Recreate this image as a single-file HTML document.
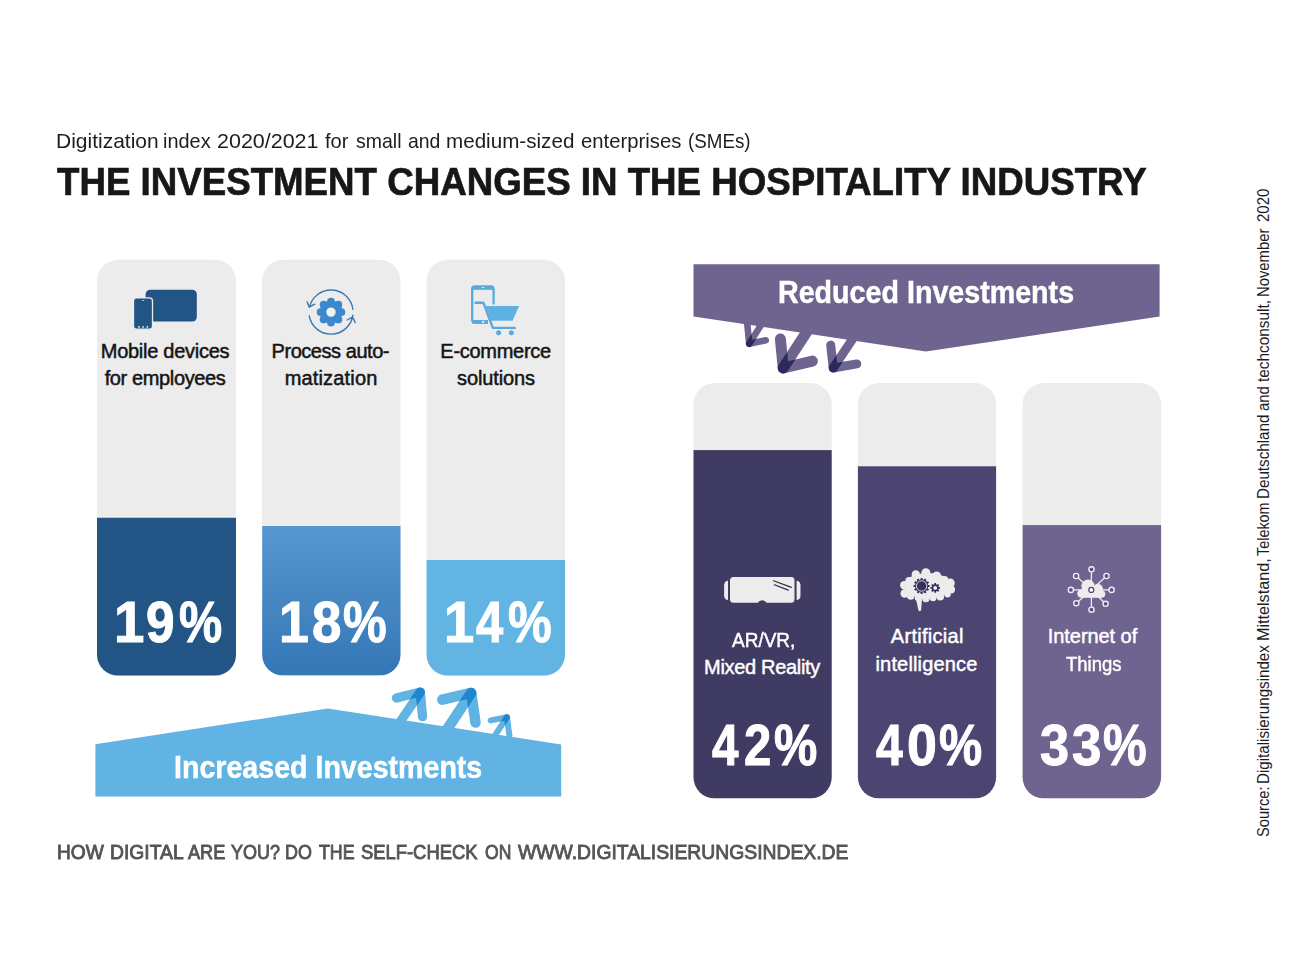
<!DOCTYPE html>
<html><head><meta charset="utf-8"><title>The investment changes in the hospitality industry</title>
<style>
html,body{margin:0;padding:0;background:#fff;}
body{width:1296px;height:972px;position:relative;overflow:hidden;font-family:"Liberation Sans",sans-serif;}
svg{position:absolute;left:0;top:0;}
.t{position:absolute;white-space:nowrap;line-height:1;margin:0;transform-origin:0 0;}
</style></head><body>
<svg width="1296" height="972" viewBox="0 0 1296 972">
<defs>
  <linearGradient id="g2" x1="0" y1="0" x2="0" y2="1"><stop offset="0" stop-color="#5797cf"/><stop offset="1" stop-color="#3476b6"/></linearGradient>
  <clipPath id="c1"><rect x="97" y="259.8" width="139" height="415.8" rx="21"/></clipPath>
  <clipPath id="c2"><rect x="262.2" y="259.8" width="138.3" height="415.8" rx="21"/></clipPath>
  <clipPath id="c3"><rect x="426.6" y="259.8" width="138.4" height="415.8" rx="21"/></clipPath>
  <clipPath id="c4"><rect x="693.5" y="383.1" width="138.2" height="415.2" rx="21"/></clipPath>
  <clipPath id="c5"><rect x="857.9" y="383.1" width="138.2" height="415.2" rx="21"/></clipPath>
  <clipPath id="c6"><rect x="1022.6" y="383.1" width="138.5" height="415.2" rx="21"/></clipPath>
</defs>
<!-- bars -->
<g clip-path="url(#c1)"><rect x="90" y="250" width="160" height="440" fill="#ececec"/><rect x="90" y="516.6" width="160" height="1.2" fill="#f7f7f7"/><rect x="90" y="517.7" width="160" height="170" fill="#225585"/></g>
<g clip-path="url(#c2)"><rect x="255" y="250" width="160" height="440" fill="#ececec"/><rect x="255" y="524.8" width="160" height="1.2" fill="#f7f7f7"/><rect x="255" y="525.9" width="160" height="149.7" fill="url(#g2)"/></g>
<g clip-path="url(#c3)"><rect x="420" y="250" width="160" height="440" fill="#ececec"/><rect x="420" y="560" width="160" height="130" fill="#62b4e2"/></g>
<g clip-path="url(#c4)"><rect x="685" y="375" width="160" height="440" fill="#ececec"/><rect x="685" y="450.1" width="160" height="360" fill="#403b63"/></g>
<g clip-path="url(#c5)"><rect x="850" y="375" width="160" height="440" fill="#ececec"/><rect x="850" y="466.3" width="160" height="340" fill="#4d4571"/></g>
<g clip-path="url(#c6)"><rect x="1015" y="375" width="160" height="440" fill="#ececec"/><rect x="1015" y="525.1" width="160" height="290" fill="#6f638f"/></g>

<!-- blue banner + arrows -->
<mask id="mb" maskUnits="userSpaceOnUse" x="380" y="680" width="150" height="70">
  <g fill="none" stroke="#fff" stroke-linecap="round" stroke-linejoin="round">
    <polyline points="396.5,698 420.3,692.1 422.5,716.7" stroke-width="9.3"/>
    <polyline points="442.3,699.7 471.2,692.9 475.5,722.6" stroke-width="10.5"/>
    <polyline points="490.7,720.4 506.9,717.2 509.4,735.4" stroke-width="6"/>
  </g>
</mask>
<g>
  <polygon points="95.4,744.2 327.7,708.6 561.2,744.4 561.2,796.4 95.4,796.4" fill="#60b3e2"/>
  <g fill="none" stroke="#60b3e2" stroke-linecap="round" stroke-linejoin="round">
    <polyline points="396.5,698 420.3,692.1 422.5,716.7" stroke-width="9.3"/>
    <polyline points="442.3,699.7 471.2,692.9 475.5,722.6" stroke-width="10.5"/>
    <polyline points="490.7,720.4 506.9,717.2 509.4,735.4" stroke-width="6"/>
    <line x1="420.3" y1="692.1" x2="398" y2="725" stroke-width="9.3"/>
    <line x1="471.2" y1="692.9" x2="444" y2="734" stroke-width="10.5"/>
    <line x1="506.9" y1="717.2" x2="492" y2="740" stroke-width="6"/>
  </g>
  <g fill="none" stroke="#1d86cf" stroke-linecap="round" mask="url(#mb)">
    <line x1="420.3" y1="692.1" x2="398" y2="725" stroke-width="9.3"/>
    <line x1="471.2" y1="692.9" x2="444" y2="734" stroke-width="10.5"/>
    <line x1="506.9" y1="717.2" x2="492" y2="740" stroke-width="6"/>
  </g>
</g>

<!-- purple banner + arrows -->
<mask id="mp" maskUnits="userSpaceOnUse" x="735" y="310" width="140" height="70">
  <g fill="none" stroke="#fff" stroke-linecap="round" stroke-linejoin="round">
    <polyline points="747.1,322 749.2,343.75 765.8,340.3" stroke-width="6.6"/>
    <polyline points="780.4,338.9 783.2,368 812.4,361.1" stroke-width="11"/>
    <polyline points="830.7,345.1 833.2,368 856.8,363.9" stroke-width="9"/>
  </g>
</mask>
<g>
  <g fill="none" stroke="#6f638f" stroke-linecap="round" stroke-linejoin="round">
    <polyline points="747.1,322 749.2,343.75 765.8,340.3" stroke-width="6.6"/>
    <polyline points="780.4,338.9 783.2,368 812.4,361.1" stroke-width="11"/>
    <polyline points="830.7,345.1 833.2,368 856.8,363.9" stroke-width="9"/>
    <line x1="749.2" y1="343.75" x2="763" y2="322" stroke-width="6.6"/>
    <line x1="783.2" y1="368" x2="808" y2="330" stroke-width="11"/>
    <line x1="833.2" y1="368" x2="854" y2="337" stroke-width="9"/>
  </g>
  <g fill="none" stroke="#2c2a5b" stroke-linecap="round" mask="url(#mp)">
    <line x1="749.2" y1="343.75" x2="763" y2="322" stroke-width="6.6"/>
    <line x1="783.2" y1="368" x2="808" y2="330" stroke-width="11"/>
    <line x1="833.2" y1="368" x2="854" y2="337" stroke-width="9"/>
  </g>
  <polygon points="693.5,264.3 1159.6,264.3 1159.6,316.4 925.8,351.5 693.5,316.4" fill="#6f638f"/>
</g>


<!-- icon: devices -->
<rect x="145.6" y="289.8" width="51.2" height="31.7" rx="4.5" fill="#225585"/>
<rect x="133.5" y="297.9" width="19" height="31.3" rx="3" fill="#225585" stroke="#ececec" stroke-width="1.3"/>
<g fill="#e8eef5"><circle cx="139" cy="326.9" r="0.9"/><circle cx="143.1" cy="326.9" r="0.9"/><circle cx="147.3" cy="326.9" r="0.9"/><rect x="142" y="300.2" width="2.2" height="0.8" rx="0.4"/></g>
<!-- icon: process gear -->
<g fill="#3b88cf"><circle cx="331" cy="312.1" r="11.3"/><circle cx="331.00" cy="301.70" r="3.9"/><circle cx="338.35" cy="304.75" r="3.9"/><circle cx="341.40" cy="312.10" r="3.9"/><circle cx="338.35" cy="319.45" r="3.9"/><circle cx="331.00" cy="322.50" r="3.9"/><circle cx="323.65" cy="319.45" r="3.9"/><circle cx="320.60" cy="312.10" r="3.9"/><circle cx="323.65" cy="304.75" r="3.9"/></g>
<circle cx="331" cy="312.1" r="4.7" fill="#f1f1f1"/>
<g fill="none" stroke="#3b78b3" stroke-width="1.4" stroke-linecap="round" stroke-linejoin="round">
  <path d="M352.94,309.41 A22.1,22.1 0 0 0 309.47,307.13"/>
  <path d="M309.24,315.94 A22.1,22.1 0 0 0 352.88,315.18"/>
  <polyline points="307.1,301.8 309.1,307.0 314.8,304.2"/>
  <polyline points="347.2,320.0 352.5,317.1 355.2,322.5"/>
</g>
<!-- icon: e-commerce -->
<g fill="none" stroke="#5ba9dc" stroke-width="2.3">
  <path d="M488,322.6 H474.6 A2.4,2.4 0 0 1 472.2,320.2 V288.9 A2.4,2.4 0 0 1 474.6,286.5 H491.2 A2.4,2.4 0 0 1 493.6,288.9 V304.5"/>
</g>
<rect x="472.2" y="286.2" width="21.4" height="3.6" fill="#5ba9dc"/>
<rect x="472.2" y="320" width="15.8" height="3.7" fill="#5ba9dc"/>
<rect x="481.8" y="287.1" width="2.4" height="0.9" fill="#eaf3fa"/>
<rect x="482" y="320.9" width="2.2" height="1.9" fill="#eaf3fa"/>
<path d="M475.5,302.7 H483.4 L492.8,327.9 H514.8" fill="none" stroke="#5ba9dc" stroke-width="2.4" stroke-linecap="round" stroke-linejoin="round"/>
<polygon points="485.2,306.1 519.1,306.1 512.6,320.7 491,320.7" fill="#5fb1e2"/>
<circle cx="498.6" cy="332.8" r="2.5" fill="#5ba9dc"/><circle cx="511.3" cy="332.8" r="2.5" fill="#5ba9dc"/>

<!-- icon: VR -->
<path d="M733.5,577 H791 A3.5,3.5 0 0 1 794.5,580.5 V599.3 A3.5,3.5 0 0 1 791,602.8 H766.6 A5,5 0 0 0 757.8,602.8 H733.5 A3.5,3.5 0 0 1 730,599.3 V580.5 A3.5,3.5 0 0 1 733.5,577 Z" fill="#ececec"/>
<path d="M728,580.8 V600.1 A4,5 0 0 1 724.1,596 V585 A4,5 0 0 1 728,580.8 Z" fill="#ececec"/>
<path d="M796.6,580.8 V600.1 A4,5 0 0 0 800.5,596 V585 A4,5 0 0 0 796.6,580.8 Z" fill="#ececec"/>
<g stroke="#2e2a4c" stroke-width="1.2" stroke-linecap="round"><line x1="773.6" y1="580.7" x2="791.4" y2="587.4"/><line x1="774.4" y1="584.7" x2="788.3" y2="590.1"/></g>

<!-- icon: brain -->
<g fill="#ececec"><circle cx="904.28" cy="585.24" r="4.18"/><circle cx="904.64" cy="593.52" r="4.18"/><circle cx="908.96" cy="580.56" r="3.60"/><circle cx="915.80" cy="574.44" r="4.18"/><circle cx="925.88" cy="572.64" r="4.46"/><circle cx="936.68" cy="575.88" r="4.46"/><circle cx="944.60" cy="579.84" r="3.74"/><circle cx="950.35" cy="583.08" r="4.46"/><circle cx="951.07" cy="589.56" r="3.96"/><circle cx="947.48" cy="594.24" r="3.24"/><circle cx="940.28" cy="596.76" r="3.74"/><circle cx="933.08" cy="597.84" r="3.46"/><circle cx="925.88" cy="598.56" r="3.74"/><circle cx="917.96" cy="597.84" r="3.24"/><circle cx="910.76" cy="596.04" r="3.74"/><ellipse cx="927.68" cy="585.60" rx="23.76" ry="12.60"/><path d="M915.22,595.32 L922.28,595.32 L921.13,609.72 A1.44,1.44 0 0 1 918.25,609.72 Z"/></g>
<path d="M920.67,577.95 L922.53,577.95 L922.63,579.48 L923.97,579.84 L924.82,578.57 L926.43,579.50 L925.75,580.87 L926.73,581.85 L928.10,581.17 L929.03,582.78 L927.76,583.63 L928.12,584.97 L929.65,585.07 L929.65,586.93 L928.12,587.03 L927.76,588.37 L929.03,589.22 L928.10,590.83 L926.73,590.15 L925.75,591.13 L926.43,592.50 L924.82,593.43 L923.97,592.16 L922.63,592.52 L922.53,594.05 L920.67,594.05 L920.57,592.52 L919.23,592.16 L918.38,593.43 L916.77,592.50 L917.45,591.13 L916.47,590.15 L915.10,590.83 L914.17,589.22 L915.44,588.37 L915.08,587.03 L913.55,586.93 L913.55,585.07 L915.08,584.97 L915.44,583.63 L914.17,582.78 L915.10,581.17 L916.47,581.85 L917.45,580.87 L916.77,579.50 L918.38,578.57 L919.23,579.84 L920.57,579.48Z" fill="#37325a"/>
<circle cx="921.6" cy="586" r="5.5" fill="#37325a" stroke="#ececec" stroke-width="0" />
<circle cx="921.6" cy="586" r="5.2" fill="none" stroke="#e6e4f0" stroke-width="0.9"/>
<path d="M934.36,583.07 L936.04,583.07 L936.06,584.30 L937.13,584.75 L938.02,583.89 L939.21,585.08 L938.35,585.97 L938.80,587.04 L940.03,587.06 L940.03,588.74 L938.80,588.76 L938.35,589.83 L939.21,590.72 L938.02,591.91 L937.13,591.05 L936.06,591.50 L936.04,592.73 L934.36,592.73 L934.34,591.50 L933.27,591.05 L932.38,591.91 L931.19,590.72 L932.05,589.83 L931.60,588.76 L930.37,588.74 L930.37,587.06 L931.60,587.04 L932.05,585.97 L931.19,585.08 L932.38,583.89 L933.27,584.75 L934.34,584.30Z" fill="#37325a"/>
<circle cx="935.2" cy="587.9" r="1.9" fill="#f1f0f5"/>

<!-- icon: IoT -->
<g stroke="#efedf4" stroke-width="1.3" fill="none"><line x1="1091.3" y1="589.9" x2="1091.47" y2="571.90"/><line x1="1091.3" y1="589.9" x2="1078.02" y2="577.75"/><line x1="1091.3" y1="589.9" x2="1104.58" y2="577.75"/><line x1="1091.3" y1="589.9" x2="1073.50" y2="589.90"/><line x1="1091.3" y1="589.9" x2="1109.00" y2="589.90"/><line x1="1091.3" y1="589.9" x2="1078.25" y2="601.48"/><line x1="1091.3" y1="589.9" x2="1103.74" y2="601.99"/><line x1="1091.3" y1="589.9" x2="1091.47" y2="607.10"/></g>
<g stroke="#efedf4" stroke-width="1.4" fill="#5d5280"><circle cx="1091.5" cy="569.3" r="2.6"/><circle cx="1076.1" cy="576" r="2.6"/><circle cx="1106.5" cy="576" r="2.6"/><circle cx="1070.9" cy="589.9" r="2.6"/><circle cx="1111.6" cy="589.9" r="2.6"/><circle cx="1076.3" cy="603.2" r="2.6"/><circle cx="1105.6" cy="603.8" r="2.6"/><circle cx="1091.5" cy="609.7" r="2.6"/></g>
<g fill="#ececec"><circle cx="1088" cy="586.1" r="6.6"/><circle cx="1098" cy="589" r="5.1"/><circle cx="1081.5" cy="593.5" r="4.3"/><circle cx="1101.5" cy="594" r="3.8"/><rect x="1081.5" y="590" width="20" height="7.8"/></g>
<circle cx="1091.3" cy="589.9" r="2.5" fill="#ffffff" stroke="#4d4472" stroke-width="1.2"/>
</svg>

<div id="s0" class="t" style="left:55.58px;top:130.96px;font-size:20.6px;font-weight:400;color:#1d1d1f;transform:scaleX(1.0193)">Digitization</div>
<div id="s1" class="t" style="left:163.43px;top:130.96px;font-size:20.6px;font-weight:400;color:#1d1d1f;transform:scaleX(0.9665)">index</div>
<div id="s2" class="t" style="left:217.06px;top:130.96px;font-size:20.6px;font-weight:400;color:#1d1d1f;transform:scaleX(1.0427)">2020/2021</div>
<div id="s3" class="t" style="left:325.00px;top:130.96px;font-size:20.6px;font-weight:400;color:#1d1d1f;transform:scaleX(0.9757)">for</div>
<div id="s4" class="t" style="left:355.60px;top:130.96px;font-size:20.6px;font-weight:400;color:#1d1d1f;transform:scaleX(0.9476)">small</div>
<div id="s5" class="t" style="left:408.30px;top:130.96px;font-size:20.6px;font-weight:400;color:#1d1d1f;transform:scaleX(0.9433)">and</div>
<div id="s6" class="t" style="left:445.70px;top:130.96px;font-size:20.6px;font-weight:400;color:#1d1d1f;transform:scaleX(1.0013)">medium-sized</div>
<div id="s7" class="t" style="left:580.60px;top:130.96px;font-size:20.6px;font-weight:400;color:#1d1d1f;transform:scaleX(0.9845)">enterprises</div>
<div id="s8" class="t" style="left:687.99px;top:130.96px;font-size:20.6px;font-weight:400;color:#1d1d1f;transform:scaleX(0.9119)">(SMEs)</div>
<div id="ttl" class="t" style="left:57.33px;top:162.16px;font-size:39.5px;font-weight:700;color:#17171a;-webkit-text-stroke:0.7px #17171a;transform:scaleX(0.9287)">THE INVESTMENT CHANGES IN THE HOSPITALITY INDUSTRY</div>
<div id="l1a" class="t" style="left:100.75px;top:340.87px;font-size:20px;font-weight:400;color:#151515;-webkit-text-stroke:0.5px #151515;letter-spacing:-0.269px">Mobile devices</div>
<div id="l1b" class="t" style="left:104.65px;top:368.27px;font-size:20px;font-weight:400;color:#151515;-webkit-text-stroke:0.5px #151515;letter-spacing:-0.369px">for employees</div>
<div id="l2a" class="t" style="left:271.55px;top:340.87px;font-size:20px;font-weight:400;color:#151515;-webkit-text-stroke:0.5px #151515;letter-spacing:-0.453px">Process auto-</div>
<div id="l2b" class="t" style="left:284.65px;top:368.27px;font-size:20px;font-weight:400;color:#151515;-webkit-text-stroke:0.5px #151515;letter-spacing:0.174px">matization</div>
<div id="l3a" class="t" style="left:440.35px;top:340.87px;font-size:20px;font-weight:400;color:#151515;-webkit-text-stroke:0.5px #151515;letter-spacing:-0.282px">E-commerce</div>
<div id="l3b" class="t" style="left:457.05px;top:368.27px;font-size:20px;font-weight:400;color:#151515;-webkit-text-stroke:0.5px #151515;letter-spacing:-0.117px">solutions</div>
<div id="inc" class="t" style="left:174.44px;top:750.61px;font-size:32px;font-weight:700;color:#ffffff;-webkit-text-stroke:0.5px #ffffff;transform:scaleX(0.8934)">Increased Investments</div>
<div id="red" class="t" style="left:777.93px;top:275.81px;font-size:32px;font-weight:700;color:#ffffff;-webkit-text-stroke:0.5px #ffffff;transform:scaleX(0.8951)">Reduced Investments</div>
<div id="r1a" class="t" style="left:731.51px;top:629.97px;font-size:20px;font-weight:400;color:#ffffff;-webkit-text-stroke:0.45px #ffffff;transform:scaleX(0.9500)">AR/VR,</div>
<div id="r1b" class="t" style="left:704.12px;top:657.47px;font-size:20px;font-weight:400;color:#ffffff;-webkit-text-stroke:0.45px #ffffff;letter-spacing:-0.316px">Mixed Reality</div>
<div id="r2a" class="t" style="left:890.83px;top:625.87px;font-size:20px;font-weight:400;color:#ffffff;-webkit-text-stroke:0.45px #ffffff;letter-spacing:0.286px">Artificial</div>
<div id="r2b" class="t" style="left:875.52px;top:653.57px;font-size:20px;font-weight:400;color:#ffffff;-webkit-text-stroke:0.45px #ffffff;letter-spacing:0.154px">intelligence</div>
<div id="r3a" class="t" style="left:1047.82px;top:625.87px;font-size:20px;font-weight:400;color:#ffffff;-webkit-text-stroke:0.45px #ffffff;letter-spacing:-0.066px">Internet of</div>
<div id="r3b" class="t" style="left:1065.61px;top:653.57px;font-size:20px;font-weight:400;color:#ffffff;-webkit-text-stroke:0.45px #ffffff;transform:scaleX(0.9259)">Things</div>
<div id="f0" class="t" style="left:57.29px;top:842.19px;font-size:20.8px;font-weight:400;color:#555557;-webkit-text-stroke:0.9px #555557;transform:scaleX(0.9198)">HOW</div>
<div id="f1" class="t" style="left:110.09px;top:842.19px;font-size:20.8px;font-weight:400;color:#555557;-webkit-text-stroke:0.9px #555557;transform:scaleX(0.9277)">DIGITAL</div>
<div id="f2" class="t" style="left:187.79px;top:842.19px;font-size:20.8px;font-weight:400;color:#555557;-webkit-text-stroke:0.9px #555557;transform:scaleX(0.8716)">ARE</div>
<div id="f3" class="t" style="left:230.89px;top:842.19px;font-size:20.8px;font-weight:400;color:#555557;-webkit-text-stroke:0.9px #555557;transform:scaleX(0.8653)">YOU?</div>
<div id="f4" class="t" style="left:285.13px;top:842.19px;font-size:20.8px;font-weight:400;color:#555557;-webkit-text-stroke:0.9px #555557;transform:scaleX(0.8601)">DO</div>
<div id="f5" class="t" style="left:319.08px;top:842.19px;font-size:20.8px;font-weight:400;color:#555557;-webkit-text-stroke:0.9px #555557;transform:scaleX(0.8550)">THE</div>
<div id="f6" class="t" style="left:361.20px;top:842.19px;font-size:20.8px;font-weight:400;color:#555557;-webkit-text-stroke:0.9px #555557;transform:scaleX(0.8842)">SELF-CHECK</div>
<div id="f7" class="t" style="left:484.78px;top:842.19px;font-size:20.8px;font-weight:400;color:#555557;-webkit-text-stroke:0.9px #555557;transform:scaleX(0.8429)">ON</div>
<div id="f8" class="t" style="left:518.22px;top:842.19px;font-size:20.8px;font-weight:400;color:#555557;-webkit-text-stroke:0.9px #555557;transform:scaleX(0.9296)">WWW.DIGITALISIERUNGSINDEX.DE</div>
<div class="t" style="left:114.38px;top:594.97px;font-size:56.5px;font-weight:700;color:#fff;-webkit-text-stroke:1.0px #fff;transform:scaleX(0.9673)">1</div>
<div class="t" style="left:146.45px;top:594.97px;font-size:56.5px;font-weight:700;color:#fff;-webkit-text-stroke:1.0px #fff;transform:scaleX(0.9095)">9</div>
<div class="t" style="left:178.77px;top:594.97px;font-size:56.5px;font-weight:700;color:#fff;-webkit-text-stroke:1.0px #fff;transform:scaleX(0.8590)">%</div>
<div class="t" style="left:279.13px;top:594.97px;font-size:56.5px;font-weight:700;color:#fff;-webkit-text-stroke:1.0px #fff;transform:scaleX(0.9495)">1</div>
<div class="t" style="left:311.63px;top:594.97px;font-size:56.5px;font-weight:700;color:#fff;-webkit-text-stroke:1.0px #fff;transform:scaleX(0.9362)">8</div>
<div class="t" style="left:343.27px;top:594.97px;font-size:56.5px;font-weight:700;color:#fff;-webkit-text-stroke:1.0px #fff;transform:scaleX(0.8692)">%</div>
<div class="t" style="left:443.60px;top:594.97px;font-size:56.5px;font-weight:700;color:#fff;-webkit-text-stroke:1.0px #fff;transform:scaleX(0.9602)">1</div>
<div class="t" style="left:476.03px;top:594.97px;font-size:56.5px;font-weight:700;color:#fff;-webkit-text-stroke:1.0px #fff;transform:scaleX(0.8663)">4</div>
<div class="t" style="left:507.77px;top:594.97px;font-size:56.5px;font-weight:700;color:#fff;-webkit-text-stroke:1.0px #fff;transform:scaleX(0.8692)">%</div>
<div class="t" style="left:712.22px;top:717.77px;font-size:56.5px;font-weight:700;color:#fff;-webkit-text-stroke:1.0px #fff;transform:scaleX(0.8420)">4</div>
<div class="t" style="left:743.67px;top:717.77px;font-size:56.5px;font-weight:700;color:#fff;-webkit-text-stroke:1.0px #fff;transform:scaleX(0.8696)">2</div>
<div class="t" style="left:774.27px;top:717.77px;font-size:56.5px;font-weight:700;color:#fff;-webkit-text-stroke:1.0px #fff;transform:scaleX(0.8610)">%</div>
<div class="t" style="left:876.43px;top:717.77px;font-size:56.5px;font-weight:700;color:#fff;-webkit-text-stroke:1.0px #fff;transform:scaleX(0.8511)">4</div>
<div class="t" style="left:906.67px;top:717.77px;font-size:56.5px;font-weight:700;color:#fff;-webkit-text-stroke:1.0px #fff;transform:scaleX(0.9512)">0</div>
<div class="t" style="left:938.77px;top:717.77px;font-size:56.5px;font-weight:700;color:#fff;-webkit-text-stroke:1.0px #fff;transform:scaleX(0.8590)">%</div>
<div class="t" style="left:1040.34px;top:717.77px;font-size:56.5px;font-weight:700;color:#fff;-webkit-text-stroke:1.0px #fff;transform:scaleX(0.9262)">3</div>
<div class="t" style="left:1071.63px;top:717.77px;font-size:56.5px;font-weight:700;color:#fff;-webkit-text-stroke:1.0px #fff;transform:scaleX(0.9362)">3</div>
<div class="t" style="left:1103.27px;top:717.77px;font-size:56.5px;font-weight:700;color:#fff;-webkit-text-stroke:1.0px #fff;transform:scaleX(0.8692)">%</div>
<div class="t" style="left:1269.9px;top:837.20px;font-size:16px;color:#1d1d1f;transform:rotate(-90deg) scaleX(0.9163) translateY(-13.54px)">Source:</div>
<div class="t" style="left:1269.9px;top:784.05px;font-size:16px;color:#1d1d1f;transform:rotate(-90deg) scaleX(0.9461) translateY(-13.54px)">Digitalisierungsindex</div>
<div class="t" style="left:1269.9px;top:641.21px;font-size:16px;color:#1d1d1f;transform:rotate(-90deg) scaleX(1.0104) translateY(-13.54px)">Mittelstand,</div>
<div class="t" style="left:1269.9px;top:556.30px;font-size:16px;color:#1d1d1f;transform:rotate(-90deg) scaleX(0.8996) translateY(-13.54px)">Telekom</div>
<div class="t" style="left:1269.9px;top:498.65px;font-size:16px;color:#1d1d1f;transform:rotate(-90deg) scaleX(0.9488) translateY(-13.54px)">Deutschland</div>
<div class="t" style="left:1269.9px;top:411.40px;font-size:16px;color:#1d1d1f;transform:rotate(-90deg) scaleX(0.9339) translateY(-13.54px)">and</div>
<div class="t" style="left:1269.9px;top:381.70px;font-size:16px;color:#1d1d1f;transform:rotate(-90deg) scaleX(0.9594) translateY(-13.54px)">techconsult,</div>
<div class="t" style="left:1269.9px;top:296.93px;font-size:16px;color:#1d1d1f;transform:rotate(-90deg) scaleX(0.9267) translateY(-13.54px)">November</div>
<div class="t" style="left:1269.9px;top:222.00px;font-size:16px;color:#1d1d1f;transform:rotate(-90deg) scaleX(0.9357) translateY(-13.54px)">2020</div>
</body></html>
